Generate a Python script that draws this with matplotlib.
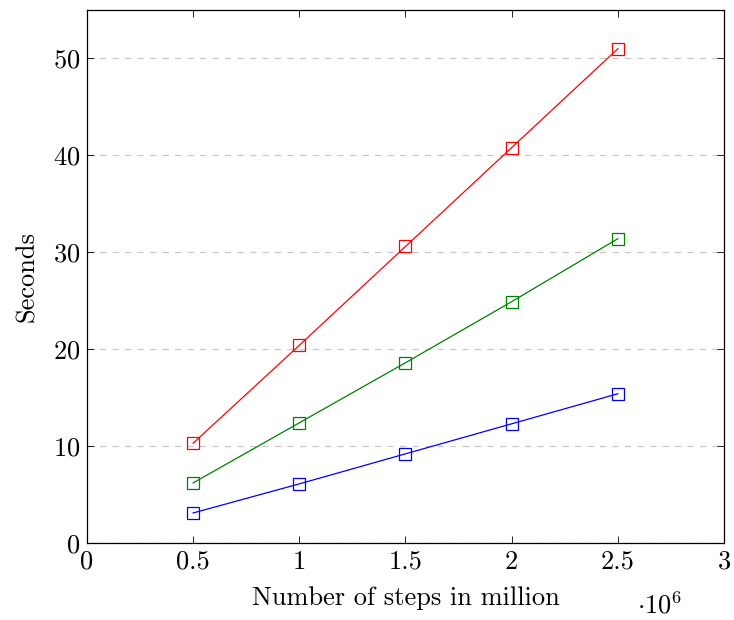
import matplotlib
matplotlib.use('Agg')
import matplotlib.pyplot as plt

plt.rcParams['font.family'] = 'cmr10'
plt.rcParams['mathtext.fontset'] = 'cm'
plt.rcParams['axes.formatter.use_mathtext'] = True

steps = [0.5e6, 1.0e6, 1.5e6, 2.0e6, 2.5e6]
red_sec = [10.3, 20.4, 30.6, 40.8, 51.0]
green_sec = [6.2, 12.4, 18.6, 24.9, 31.4]
blue_sec = [3.1, 6.1, 9.2, 12.3, 15.4]

xticks = [0, 0.5e6, 1e6, 1.5e6, 2e6, 2.5e6, 3e6]
xticklabels = ['0', '0.5', '1', '1.5', '2', '2.5', '3']
yticks = [0, 10, 20, 30, 40, 50]

fig = plt.figure(figsize=(7.34, 6.2), dpi=100)
ax = fig.add_axes([0.1185, 0.1242, 0.8679, 0.8597])

for vals, col in [(red_sec, 'red'), (green_sec, 'green'), (blue_sec, 'blue')]:
    ax.plot(steps, vals, color=col, lw=0.9, marker='s', markersize=8,
            markerfacecolor='none', markeredgecolor=col, markeredgewidth=0.9)

ax.set_xlim(0, 3e6)
ax.set_ylim(0, 55)
ax.set_xticks(xticks)
ax.set_xticklabels(xticklabels)
ax.set_yticks(yticks)
ax.yaxis.grid(True, linestyle=(0, (5, 5)), color='#c8c8c8', lw=0.9)
ax.set_axisbelow(True)
ax.tick_params(direction='in', top=True, right=True, labelsize=19, length=5, width=0.6, pad=5)
for s in ax.spines.values():
    s.set_linewidth(0.9)

ax.set_xlabel('Number of steps in million', fontsize=19, labelpad=9)
ax.set_ylabel('Seconds', fontsize=19, labelpad=10)
fig.text(0.899, 0.002, r'$\cdot 10^6$', fontsize=19, ha='center', va='bottom')

fig.savefig('out.png', dpi=100)
